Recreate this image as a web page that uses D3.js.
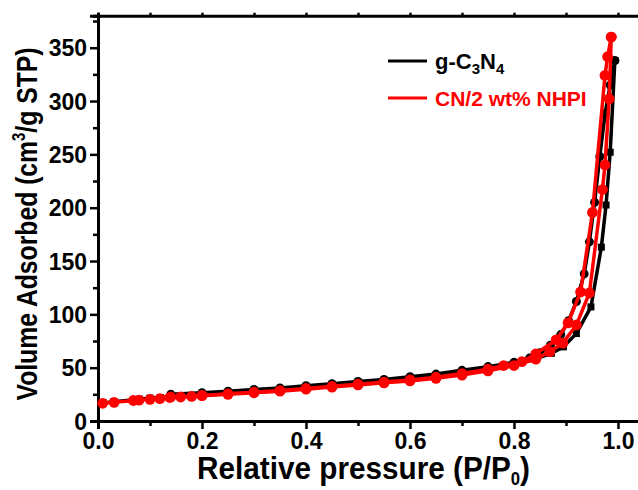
<!DOCTYPE html>
<html>
<head>
<meta charset="utf-8">
<script src="https://cdn.jsdelivr.net/npm/d3@7"></script>
<style>
  body { margin: 0; background: #fff; }
  svg text { font-family: Arial, "Liberation Sans", sans-serif; font-weight: bold; }
</style>
</head>
<body>
<svg id="chart" width="638" height="490"></svg>
<script>
// g-C3N4, adsorption branch (squares)
var gcnAdsP = [0.01,0.03,0.07,0.08,0.10,0.12,0.14,0.16,0.18,0.20,0.25,0.30,0.35,0.40,0.45,0.50,0.55,0.60,0.65,0.70,0.75,0.80,0.84,0.872,0.895,0.92,0.948,0.968,0.977,0.985,0.994];
var gcnAdsV = [17,18,20,20.5,21.5,22,23,23.5,24,25,26.5,28,29.5,31.5,33.5,35.5,37.5,39.5,42,45,48.5,53,58,63.5,69.5,82,107,163,202.5,252,338];
// g-C3N4, desorption branch (circles)
var gcnDesP = [0.994,0.985,0.975,0.965,0.955,0.945,0.935,0.92,0.905,0.89,0.87,0.85,0.83,0.80,0.75,0.70,0.65,0.60,0.55,0.50,0.45,0.40,0.35,0.30,0.25,0.20,0.14];
var gcnDesV = [338,315,288,248,205,168,138,112,94,81,71,64,59,55,51,47.5,44,41.5,39,37,35,33,31,29.5,28,26.5,25];
// CN/2 wt% NHPI, adsorption branch
var nhpiAdsP = [0.009,0.031,0.068,0.079,0.10,0.119,0.138,0.159,0.18,0.20,0.25,0.30,0.35,0.40,0.45,0.50,0.55,0.60,0.65,0.70,0.75,0.80,0.842,0.869,0.894,0.92,0.945,0.97,0.975,0.983,0.987];
var nhpiAdsV = [16.6,17.5,19.2,19.6,20.3,21,22,22.5,23,23.7,25,26.5,28,29.8,31.8,33.8,35.8,37.6,40,43,47,52,58,65,73,90,120,217,240,302,360];
// CN/2 wt% NHPI, desorption branch
var nhpiDesP = [0.987,0.98,0.975,0.951,0.928,0.904,0.881,0.842,0.815,0.78,0.75,0.70,0.65,0.60,0.55,0.50,0.45,0.40,0.35,0.30,0.25,0.20,0.14];
var nhpiDesV = [360,341.5,324,195.6,121,92,76,63,55.6,52,48.5,44.5,41,38.5,36.5,34.5,32.5,30.5,28.5,27,25.5,24,22.5];

var xTicks = [0.0,0.2,0.4,0.6,0.8,1.0];
var yTicks = [0,50,100,150,200,250,300,350];

var svg = d3.select("#chart");

var x = d3.scaleLinear().domain([0, 1.05]).range([98, 644]);
var y = d3.scaleLinear().domain([0, 380]).range([421, 15.7]);

function pairs(ps, vs) {
  return ps.map(function (p, i) { return [p, vs[i]]; });
}

var line = d3.line()
  .x(function (d) { return x(d[0]); })
  .y(function (d) { return y(d[1]); });

// axes
var xAxis = svg.append("g").attr("transform", "translate(0,421)")
  .call(d3.axisBottom(x).tickValues(xTicks).tickFormat(d3.format(".1f")).tickSize(8).tickPadding(3));
svg.append("g").attr("transform", "translate(0,421)")
  .call(d3.axisBottom(x).tickValues([0.1,0.3,0.5,0.7,0.9]).tickFormat("").tickSize(5));
var yAxis = svg.append("g").attr("transform", "translate(98,0)")
  .call(d3.axisLeft(y).tickValues(yTicks).tickSize(8).tickPadding(3));
svg.append("g").attr("transform", "translate(98,0)")
  .call(d3.axisLeft(y).tickValues([25,75,125,175,225,275,325,375]).tickFormat("").tickSize(5));
svg.append("g").attr("transform", "translate(0,15.7)")
  .call(d3.axisTop(x).tickValues(d3.range(0, 1.05, 0.1)).tickFormat("").tickSize(3));

svg.selectAll(".domain").attr("stroke", "#000").attr("stroke-width", 3);
svg.selectAll(".tick line").attr("stroke", "#000").attr("stroke-width", 2.5);
svg.selectAll(".tick text").attr("fill", "#000").style("font-size", "23px");
xAxis.selectAll(".tick text").attr("dy", "0.74em");
yAxis.selectAll(".tick text").attr("dy", "0.36em");

// series
function drawBranch(data, color, shape) {
  svg.append("path").datum(data)
    .attr("d", line)
    .attr("fill", "none")
    .attr("stroke", color)
    .attr("stroke-width", 3.5);
  if (shape == "square") {
    svg.append("g").selectAll("rect").data(data).enter().append("rect")
      .attr("x", function (d) { return x(d[0]) - 3.5; })
      .attr("y", function (d) { return y(d[1]) - 3.5; })
      .attr("width", 7).attr("height", 7)
      .attr("fill", color);
  } else {
    svg.append("g").selectAll("circle").data(data).enter().append("circle")
      .attr("cx", function (d) { return x(d[0]); })
      .attr("cy", function (d) { return y(d[1]); })
      .attr("r", shape == "small" ? 4.5 : 5.4)
      .attr("fill", color);
  }
}

drawBranch(pairs(gcnDesP, gcnDesV), "#000", "small");
drawBranch(pairs(gcnAdsP, gcnAdsV), "#000", "square");
drawBranch(pairs(nhpiDesP, nhpiDesV), "#ff0000", "circle");
drawBranch(pairs(nhpiAdsP, nhpiAdsV), "#ff0000", "circle");

// axis titles
var xt = svg.append("text")
  .attr("x", 197).attr("y", 479)
  .attr("textLength", 333).attr("lengthAdjust", "spacingAndGlyphs")
  .style("font-size", "32px").attr("fill", "#000");
xt.append("tspan").text("Relative pressure (P/P");
xt.append("tspan").attr("dy", 6).style("font-size", "18px").text("0");
xt.append("tspan").attr("dy", -6).text(")");

var yt = svg.append("text")
  .attr("transform", "translate(37,224) rotate(-90)")
  .attr("text-anchor", "middle")
  .attr("textLength", 353).attr("lengthAdjust", "spacingAndGlyphs")
  .style("font-size", "30px").attr("fill", "#000");
yt.append("tspan").text("Volume Adsorbed (cm");
yt.append("tspan").attr("dy", -12).style("font-size", "18px").text("3");
yt.append("tspan").attr("dy", 12).text("/g STP)");

// legend
svg.append("line").attr("x1", 388).attr("x2", 427).attr("y1", 61).attr("y2", 61)
  .attr("stroke", "#000").attr("stroke-width", 3);
var l1 = svg.append("text").attr("x", 435).attr("y", 69).style("font-size", "22px").attr("fill", "#000");
l1.append("tspan").text("g-C");
l1.append("tspan").attr("dy", 5).style("font-size", "15px").text("3");
l1.append("tspan").attr("dy", -5).text("N");
l1.append("tspan").attr("dy", 5).style("font-size", "15px").text("4");

svg.append("line").attr("x1", 388).attr("x2", 427).attr("y1", 98).attr("y2", 98)
  .attr("stroke", "#ff0000").attr("stroke-width", 3);
svg.append("text").attr("x", 435).attr("y", 106).style("font-size", "21px").attr("fill", "#ff0000")
  .text("CN/2 wt% NHPI");
</script>
</body>
</html>
